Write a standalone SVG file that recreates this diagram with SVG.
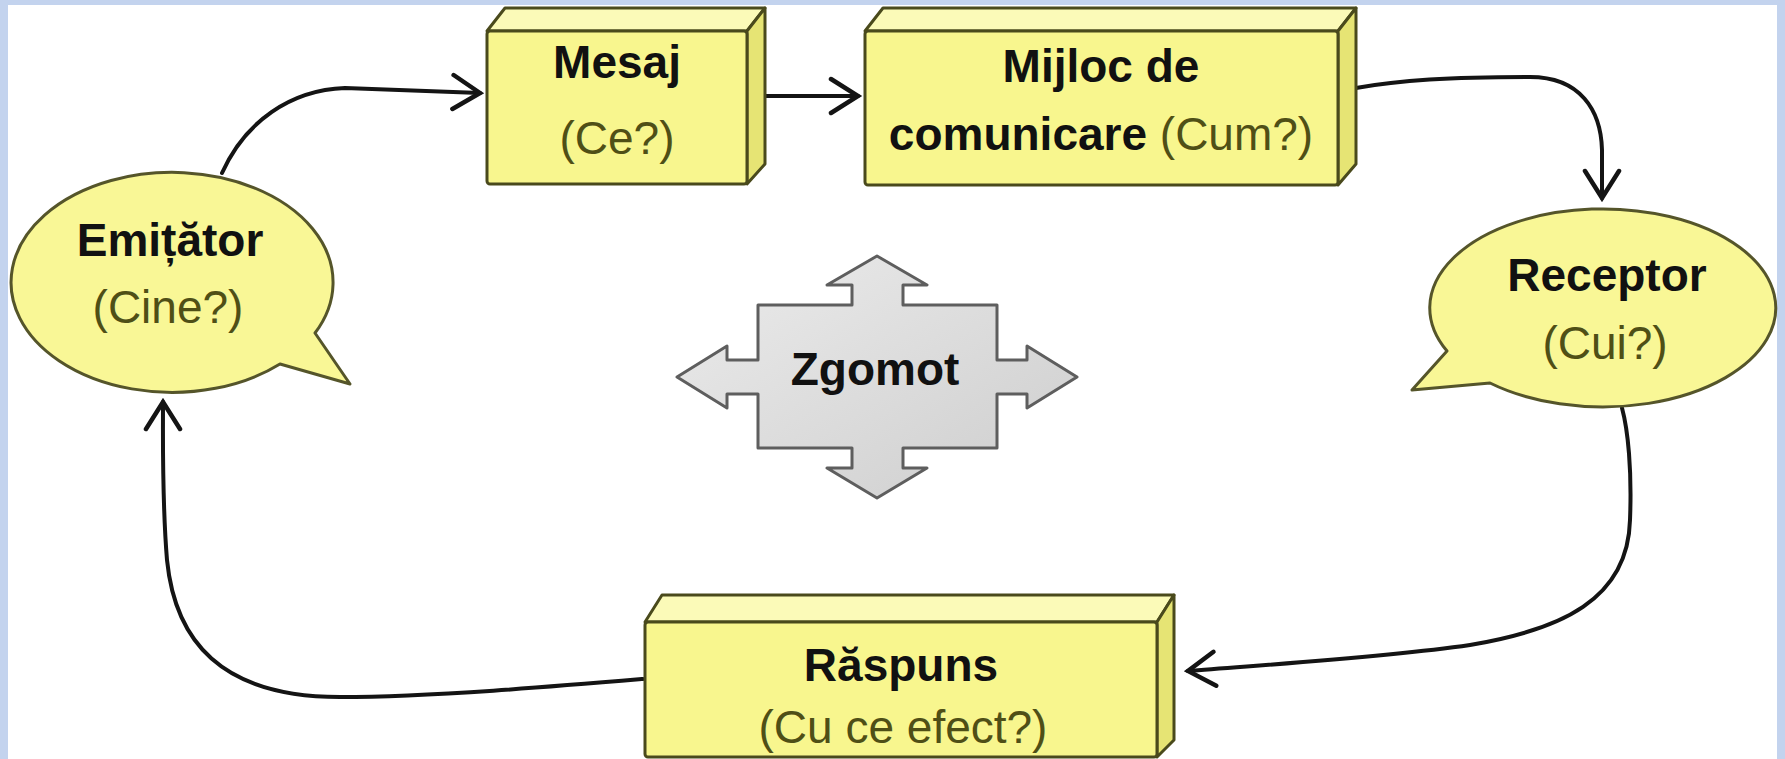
<svg xmlns="http://www.w3.org/2000/svg" width="1785" height="759" viewBox="0 0 1785 759">
<defs>
<style>
.face{fill:#f8f68e;stroke:#4a4a1c;stroke-width:3;stroke-linejoin:round}
.top{fill:#fbfab8;stroke:#4a4a1c;stroke-width:3;stroke-linejoin:round}
.side{fill:#e6e474;stroke:#4a4a1c;stroke-width:3;stroke-linejoin:round}
.bubble{fill:#f9f796;stroke:#55552a;stroke-width:3;stroke-linejoin:round}
.b{font-family:"Liberation Sans",Arial,sans-serif;font-weight:bold;font-size:46px;fill:#111;text-anchor:middle}
.r{font-family:"Liberation Sans",Arial,sans-serif;font-size:46px;fill:#4f4f16;text-anchor:middle}
.conn{fill:none;stroke:#141414;stroke-width:4;stroke-linecap:round;marker-end:url(#arr)}
</style>
<marker id="arr" markerUnits="userSpaceOnUse" markerWidth="40" markerHeight="40" viewBox="-32 -20 36 40" refX="0" refY="0" orient="auto">
<path d="M-27,-17 L0,0 L-27,17" fill="none" stroke="#141414" stroke-width="4.5" stroke-linecap="round" stroke-linejoin="miter"/>
</marker>
<linearGradient id="gz" x1="0" y1="0" x2="1" y2="1">
<stop offset="0" stop-color="#ececec"/>
<stop offset="1" stop-color="#cdcdcd"/>
</linearGradient>
</defs>
<rect x="0" y="0" width="1785" height="759" fill="#c3d3ee"/>
<rect x="8" y="5" width="1769" height="754" fill="#ffffff"/>

<g id="connectors">
<path class="conn" d="M222,173 C245,122 290,90 345,88 L480,93"/>
<path class="conn" d="M766,96 L858,96"/>
<path class="conn" d="M1356,88 C1400,80 1450,77 1530,77 C1580,77 1601,110 1602,150 L1602,198"/>
<path class="conn" d="M1622,408 C1628,430 1632,470 1630,520 C1628,600 1560,630 1470,645 C1380,658 1260,665 1188,671"/>
<path class="conn" d="M643,679 C560,686 430,697 340,697 C220,697 175,640 167,560 C162,500 163,440 163,402"/>
</g>

<g id="mesaj">
<path class="top" d="M487,31 L505,8 L765,8 L747,31 Z"/>
<path class="side" d="M747,31 L765,8 L765,164 L747,184 Z"/>
<rect class="face" x="487" y="31" width="260" height="153" rx="3"/>
<text class="b" x="617" y="78">Mesaj</text>
<text class="r" x="617" y="154">(Ce?)</text>
</g>

<g id="mijloc">
<path class="top" d="M865,31 L883,8 L1356,8 L1338,31 Z"/>
<path class="side" d="M1338,31 L1356,8 L1356,164 L1338,185 Z"/>
<rect class="face" x="865" y="31" width="473" height="154" rx="3"/>
<text class="b" x="1101" y="82">Mijloc de</text>
<text class="b" x="1101" y="150">comunicare <tspan class="r" style="font-weight:normal;fill:#4f4f16">(Cum?)</tspan></text>
</g>

<g id="emitator">
<path class="bubble" d="M315,333 L350,384 L280,364 A161,110 0 1 1 315,333 Z"/>
<text class="b" x="170" y="256">Emițător</text>
<text class="r" x="168" y="323">(Cine?)</text>
</g>

<g id="receptor">
<path class="bubble" d="M1490,383 L1412,390 L1447,351 A173,99 0 1 1 1490,383 Z"/>
<text class="b" x="1607" y="291">Receptor</text>
<text class="r" x="1605" y="359">(Cui?)</text>
</g>

<g id="zgomot">
<path d="M758,305 L852,305 L852,285 L827,285 L877,256 L927,285 L903,285 L903,305 L997,305 L997,360 L1027,360 L1027,346 L1077,377 L1027,408 L1027,394 L997,394 L997,448 L903,448 L903,468 L927,468 L877,498 L827,468 L852,468 L852,448 L758,448 L758,394 L727,394 L727,408 L677,377 L727,346 L727,360 L758,360 Z" fill="url(#gz)" stroke="#5e5e5e" stroke-width="3" stroke-linejoin="round"/>
<text class="b" x="875" y="385">Zgomot</text>
</g>

<g id="raspuns">
<path class="top" d="M645,622 L662,595 L1174,595 L1157,622 Z"/>
<path class="side" d="M1157,622 L1174,595 L1174,740 L1157,757 Z"/>
<rect class="face" x="645" y="622" width="512" height="135" rx="3"/>
<text class="b" x="901" y="681">Răspuns</text>
<text class="r" x="903" y="743">(Cu ce efect?)</text>
</g>
</svg>
